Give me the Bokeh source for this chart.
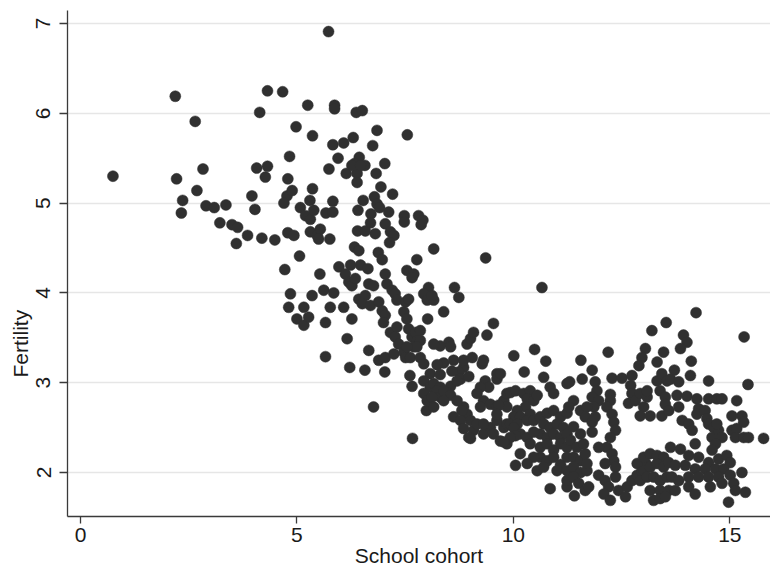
import math
from bokeh.plotting import figure
from bokeh.models import Range1d, FixedTicker, Title
from bokeh.embed import file_html
from bokeh.resources import INLINE

# ---- data ----
school_cohort = [
    0.75, 2.19, 2.65, 2.83, 2.22, 2.69, 2.36, 2.33, 2.90, 3.09, 3.36, 3.22, 3.50, 3.63, 3.60, 3.86,
    4.19, 4.49, 3.96, 4.03, 4.07, 4.32, 4.27, 4.14, 4.32, 4.67, 4.72, 4.79, 4.83, 4.79, 4.77, 4.70,
    5.73, 5.25, 5.87, 5.87, 6.37, 6.51, 4.98, 5.36, 6.85, 7.55, 5.83, 6.08, 6.30, 6.75, 5.95, 5.74,
    6.44, 6.33, 6.57, 6.39, 6.39, 6.14, 6.27, 6.47, 7.03, 6.83, 6.94, 7.21, 5.36, 4.89, 5.08, 5.30,
    5.20, 5.31, 5.39, 5.83, 5.67, 5.83, 6.53, 6.79, 6.85, 6.91, 6.41, 6.71, 6.70, 7.12, 7.48, 7.48,
    7.81, 7.91, 7.87, 4.93, 5.31, 5.47, 5.54, 5.50, 5.76, 6.40, 6.58, 6.81, 7.04, 7.16, 7.24, 7.14,
    6.33, 6.43, 6.88, 6.97, 7.77, 8.16, 5.06, 9.36,
    5.53, 5.97, 6.24, 6.12, 6.20, 6.27, 6.35, 6.47, 6.64, 6.66, 6.77, 7.04, 7.08, 7.20, 7.27, 7.31,
    7.54, 7.70, 7.66, 8.04, 8.64, 8.74,
    4.85, 5.35, 5.62, 5.85, 4.81, 5.16, 5.00, 5.16, 5.27, 5.77, 6.08, 5.66, 6.27, 6.43, 6.58, 6.51,
    6.70, 6.89, 6.97, 7.04, 7.00, 7.16, 7.31, 7.27, 7.35, 7.51, 7.58, 7.47, 7.54, 7.58, 7.66, 7.74,
    7.85, 7.78, 7.70, 7.93, 8.01, 8.16, 8.12, 8.39, 8.02, 6.16, 6.66, 5.66, 6.89, 7.04, 7.24, 7.47,
    7.51, 6.22, 6.57, 7.03, 7.61, 7.66, 6.77, 7.67, 7.99,
    7.85, 7.77, 7.54, 7.62, 7.85, 7.93, 8.08, 7.93, 8.08, 8.16, 8.51, 8.55, 8.93, 8.31, 8.16, 9.01,
    9.08, 9.39, 9.54, 9.05, 9.28, 8.85, 8.74, 8.58, 8.39, 8.24, 8.31, 8.31, 8.55, 8.47, 8.78, 8.97,
    8.62, 8.85, 9.31, 9.62, 9.62, 9.35, 9.43, 9.24, 9.16, 9.31, 9.24, 9.47, 9.62, 9.78, 9.85, 8.85,
    8.93, 9.01, 9.08, 9.01, 9.16, 9.31, 9.47, 9.54, 9.70, 9.85, 9.78, 9.62, 8.24, 8.31, 8.39, 8.55,
    8.70, 8.81, 8.70, 7.93, 8.01, 8.12, 8.16, 8.39, 8.62, 8.78, 8.85, 8.97, 9.31,
    10.66, 10.01, 10.49, 10.75, 10.25, 10.70, 10.85, 10.93, 11.24, 9.70, 9.93, 10.05, 10.24, 10.39,
    10.32, 10.47, 10.55, 10.28, 10.39, 10.09, 10.01, 9.85, 9.66, 9.62, 10.16, 10.32, 10.47, 9.85,
    9.93, 10.09, 10.01, 10.16, 10.32, 10.05, 9.93, 9.78, 10.16, 10.05, 10.62, 10.78, 10.93, 11.09,
    11.24, 10.70, 10.85, 11.01, 11.16, 10.62, 10.78, 10.93, 11.09, 11.24, 10.62, 10.78, 10.93, 11.09,
    11.24, 10.62, 10.78, 10.93, 11.09, 11.24, 10.55, 10.70, 11.01, 11.24, 10.85, 11.24, 10.39, 10.47,
    10.32, 10.47,
    12.19, 11.56, 11.82, 11.30, 11.59, 11.89, 11.93, 11.82, 11.97, 11.86, 12.28, 12.51, 12.24, 12.24,
    12.16, 12.28, 12.32, 12.36, 12.24, 12.16, 12.28, 12.32, 12.36, 12.12, 11.39, 11.28, 11.55, 11.70,
    11.66, 11.82, 11.89, 11.39, 11.55, 11.32, 11.47, 11.62, 11.39, 11.55, 11.66, 11.39, 11.55, 11.70,
    11.24, 11.39, 11.51, 11.66, 11.41, 11.74, 11.97, 11.97, 12.12, 12.20, 12.36, 12.09, 12.24, 12.43,
    12.63, 12.59, 12.74, 12.86, 12.97, 13.05, 11.82, 11.70,
    13.20, 13.53, 13.05, 12.97, 12.90, 12.74, 12.71, 12.74, 12.66, 12.82, 12.93, 13.09, 13.01, 12.93,
    13.16, 13.09, 13.32, 13.32, 13.47, 13.43, 13.39, 13.55, 13.51,
    12.86, 13.01, 13.16, 13.32, 13.47, 13.01, 13.16, 13.32, 13.47, 12.93, 13.09, 13.24, 13.39, 13.55,
    13.16, 13.39, 13.24, 13.39,
    14.22, 15.33, 13.93, 14.01, 13.86, 14.11, 13.72, 13.63, 13.82, 14.09, 14.51, 15.42, 13.51, 13.43,
    13.59, 13.78, 13.82, 14.01, 14.24, 14.51, 14.70, 14.82, 15.16, 15.28, 15.32, 15.05, 13.90, 14.05,
    14.13, 14.20, 14.28, 14.24, 14.43, 14.47, 14.51, 14.63, 14.59, 14.74, 14.82, 14.67, 14.59, 14.70,
    15.05, 15.16, 15.13, 15.32, 15.43, 15.78,
    13.63, 13.86, 14.05, 14.28, 14.51, 14.74, 14.93, 15.01, 13.59, 13.74, 13.97, 14.20, 14.43, 14.67,
    14.86, 13.66, 13.82, 14.05, 14.28, 14.51, 14.74, 15.01, 15.28, 13.59, 13.74, 14.05, 14.20, 14.55,
    14.82, 15.09, 15.13, 15.36, 14.97, 13.51,
]

fertility = [
    5.30, 6.19, 5.91, 5.38, 5.27, 5.14, 5.03, 4.89, 4.97, 4.95, 4.98, 4.78, 4.76, 4.73, 4.55, 4.64,
    4.61, 4.59, 5.08, 4.93, 5.39, 5.41, 5.29, 6.01, 6.25, 6.24, 4.26, 4.67, 5.52, 5.27, 5.08, 5.00,
    6.91, 6.09, 6.09, 6.05, 6.01, 6.03, 5.85, 5.75, 5.81, 5.76, 5.65, 5.67, 5.73, 5.64, 5.50, 5.38,
    5.51, 5.44, 5.42, 5.33, 5.23, 5.33, 5.42, 5.42, 5.44, 5.33, 5.18, 5.10, 5.16, 5.14, 4.95, 5.03,
    4.86, 4.82, 4.92, 5.02, 4.89, 4.90, 5.03, 5.07, 4.99, 4.95, 4.92, 4.88, 4.78, 4.90, 4.86, 4.79,
    4.86, 4.81, 4.76, 4.64, 4.68, 4.64, 4.71, 4.60, 4.60, 4.69, 4.69, 4.66, 4.77, 4.68, 4.64, 4.56,
    4.51, 4.47, 4.45, 4.37, 4.37, 4.49, 4.41, 4.39,
    4.21, 4.29, 4.31, 4.21, 4.12, 4.08, 4.16, 4.31, 4.27, 4.10, 4.08, 4.21, 4.10, 4.03, 3.99, 3.92,
    4.25, 4.21, 4.17, 4.06, 4.06, 3.95,
    3.99, 3.97, 4.03, 4.00, 3.84, 3.84, 3.71, 3.64, 3.73, 3.84, 3.84, 3.67, 3.71, 3.93, 3.97, 3.88,
    3.86, 3.90, 3.80, 3.75, 3.67, 3.56, 3.62, 3.51, 3.43, 3.90, 3.93, 3.79, 3.71, 3.60, 3.51, 3.56,
    3.58, 3.47, 3.40, 3.99, 3.92, 3.92, 3.97, 3.79, 3.71, 3.49, 3.36, 3.29, 3.25, 3.28, 3.32, 3.34,
    3.28, 3.17, 3.14, 3.12, 3.08, 2.96, 2.73, 2.38, 2.69,
    3.47, 3.40, 3.40, 3.28, 3.28, 3.21, 3.10, 3.02, 2.95, 2.99, 3.45, 3.40, 3.43, 3.41, 3.43, 3.49,
    3.56, 3.53, 3.66, 3.28, 3.21, 3.17, 3.12, 3.13, 3.22, 3.20, 3.09, 2.95, 2.96, 2.89, 3.04, 3.07,
    3.25, 3.25, 3.25, 3.10, 3.04, 3.02, 2.95, 2.95, 2.88, 2.80, 2.73, 2.76, 2.73, 2.80, 2.88, 2.73,
    2.65, 2.58, 2.47, 2.38, 2.54, 2.43, 2.50, 2.43, 2.35, 2.32, 2.50, 2.58, 2.91, 2.84, 2.91, 2.86,
    2.80, 2.69, 3.02, 2.88, 2.80, 2.84, 2.73, 2.80, 2.62, 2.58, 2.49, 2.39, 2.54,
    4.06, 3.30, 3.37, 3.24, 3.12, 3.06, 2.95, 2.88, 2.99, 3.10, 2.89, 2.91, 2.88, 2.91,
    2.82, 2.80, 2.86, 2.73, 2.65, 2.69, 2.62, 2.73, 2.75, 2.65, 2.62, 2.58, 2.58, 2.54,
    2.54, 2.54, 2.50, 2.43, 2.39, 2.41, 2.39, 2.34, 2.21, 2.08, 2.62, 2.66, 2.69, 2.62,
    2.66, 2.54, 2.50, 2.54, 2.50, 2.43, 2.39, 2.43, 2.39, 2.43, 2.28, 2.32, 2.25, 2.32,
    2.28, 2.17, 2.13, 2.17, 2.09, 2.17, 2.02, 2.06, 2.02, 2.02, 1.82, 1.84, 2.32, 2.17,
    2.10, 2.45,
    3.34, 3.25, 3.14, 3.01, 3.04, 3.01, 2.91, 2.84, 2.80, 2.73, 3.05, 3.05, 2.87, 2.80,
    2.73, 2.65, 2.56, 2.47, 2.39, 2.28, 2.21, 2.13, 2.06, 2.10, 2.80, 2.73, 2.69, 2.73,
    2.62, 2.56, 2.62, 2.51, 2.43, 2.36, 2.28, 2.32, 2.17, 2.13, 2.21, 2.06, 2.00, 2.02,
    1.91, 1.95, 1.88, 1.80, 1.74, 1.84, 2.28, 1.97, 1.91, 1.84, 1.95, 1.76, 1.69, 1.80,
    1.84, 1.73, 1.91, 1.97, 2.02, 2.11, 2.45, 2.10,
    3.58, 3.67, 3.38, 3.28, 3.19, 3.08, 2.97, 2.88, 2.77, 2.80, 2.88, 2.84, 2.73, 2.63,
    2.63, 2.91, 3.02, 3.23, 3.34, 3.10, 2.91, 3.02, 2.84,
    2.10, 2.17, 2.21, 2.19, 2.17, 2.02, 2.06, 2.10, 2.06, 1.91, 1.95, 1.95, 1.91, 1.95,
    1.80, 1.80, 1.69, 1.71,
    3.78, 3.51, 3.53, 3.45, 3.38, 3.24, 3.14, 3.04, 3.01, 3.08, 3.02, 2.98, 2.76, 2.63,
    2.69, 2.86, 2.73, 2.85, 2.82, 2.82, 2.82, 2.82, 2.80, 2.63, 2.56, 2.63, 2.58, 2.54,
    2.47, 2.32, 2.71, 2.65, 2.69, 2.60, 2.54, 2.50, 2.39, 2.47, 2.39, 2.32, 2.25, 2.54,
    2.47, 2.49, 2.39, 2.39, 2.39, 2.38,
    2.28, 2.26, 2.19, 2.17, 2.11, 2.15, 2.19, 2.11, 2.11, 2.08, 2.08, 2.04, 2.04, 2.04,
    2.04, 1.95, 1.91, 1.95, 1.95, 1.95, 1.95, 1.97, 2.00, 1.80, 1.80, 1.84, 1.76, 1.84,
    1.88, 1.88, 1.80, 1.78, 1.67, 1.73,
]

x_ticks = [0, 5, 10, 15]
y_ticks = [2, 3, 4, 5, 6, 7]
x_title = "School cohort"
y_title = "Fertility"

FONT = "Liberation Sans"
INK = "#3a3a3a"
TXT = "#1a1a1a"

p = figure(width=770, height=569, output_backend="svg", toolbar_location=None,
           x_range=Range1d(-0.30, 15.94), y_range=Range1d(1.51, 7.145),
           min_border_left=67, min_border_right=0, min_border_top=10, min_border_bottom=53)
p.outline_line_color = None
p.background_fill_color = "white"
p.border_fill_color = "white"

p.scatter(school_cohort, fertility, size=11, marker="circle",
          fill_color="#303030", line_color="#303030", line_width=0.5)

for ax in (p.xaxis[0], p.yaxis[0]):
    ax.axis_line_color = INK
    ax.axis_line_width = 1.3
    ax.major_tick_line_color = INK
    ax.major_tick_line_width = 1.3
    ax.major_tick_in = 0
    ax.minor_tick_out = 0
    ax.minor_tick_in = 0
    ax.major_label_text_font = FONT
    ax.major_label_text_font_size = "21px"
    ax.major_label_text_color = TXT

p.xaxis.ticker = FixedTicker(ticks=x_ticks)
p.yaxis.ticker = FixedTicker(ticks=y_ticks)
p.xaxis.major_tick_out = 7
p.yaxis.major_tick_out = 8
p.xaxis.major_label_standoff = 4
p.yaxis.major_label_standoff = 9
p.yaxis.major_label_orientation = "vertical"

p.xaxis.axis_label = x_title
p.xaxis.axis_label_text_font = FONT
p.xaxis.axis_label_text_font_size = "21px"
p.xaxis.axis_label_text_font_style = "normal"
p.xaxis.axis_label_text_color = TXT
p.xaxis.axis_label_standoff = -1

p.add_layout(Title(text=y_title, align="left", offset=139, standoff=0,
                   vertical_align="top", text_font=FONT, text_font_size="21px",
                   text_font_style="normal", text_color=TXT), "left")

p.xgrid.grid_line_color = None
p.ygrid.grid_line_color = "#e6e6e6"
p.ygrid.grid_line_width = 1.5

open("out.html", "w").write(file_html(p, INLINE))
